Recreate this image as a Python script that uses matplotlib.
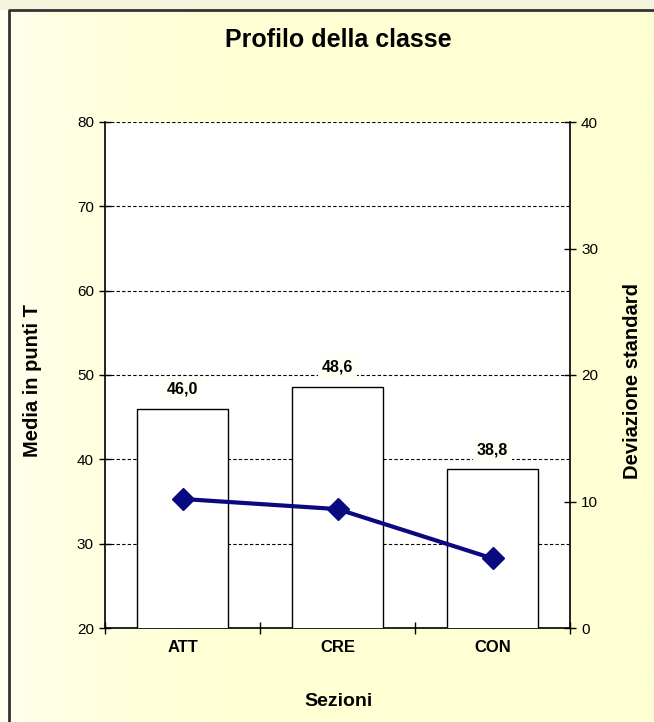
import numpy as np
import matplotlib.pyplot as plt
from matplotlib.colors import LinearSegmentedColormap

plt.rcParams['font.family'] = ['Liberation Sans', 'DejaVu Sans']

# dati della classe
sezioni = ['ATT', 'CRE', 'CON']
media_t = [46.0, 48.6, 38.8]
dev_std = [10.2, 9.4, 5.5]

W, H = 654, 722
fig = plt.figure(figsize=(W / 100, H / 100), dpi=100)

# sfondo giallo chiaro, un po' piu' bianco sul bordo sinistro
bg = fig.add_axes([0, 0, 1, 1], zorder=-10)
g = np.linspace(0, 1, 256)
g = np.clip(g / 0.35, 0, 1) ** 0.6
bg.imshow(g[None, :], aspect='auto', extent=[0, 1, 0, 1],
          cmap=LinearSegmentedColormap.from_list('bgy', ['#fffff2', '#ffffd4']))
bg.set_xlim(0, 1)
bg.set_ylim(0, 1)
bg.axis('off')
bg.axhspan(1 - 9 / H, 1, color='#f4f4dc')
bg.plot([9 / W, 9 / W, 1.05], [-0.05, 1 - 10 / H, 1 - 10 / H], color='#333333',
        lw=2, transform=bg.transAxes, clip_on=True)

ax = fig.add_axes([105 / W, 1 - 628 / H, 465 / W, 506 / H])
ax.set_facecolor('white')
x = np.arange(len(sezioni))
ax.bar(x, media_t, width=0.59, color='white', edgecolor='black',
       linewidth=1.0, zorder=3)
ax.set_ylim(20, 80)
ax.set_xlim(-0.5, len(sezioni) - 0.5)
ax.set_yticks(np.arange(20, 81, 10))
ax.yaxis.grid(True, linestyle=(0, (3, 2)), color='black', linewidth=0.8, zorder=1)
ax.set_axisbelow(True)

for xi, v in zip(x, media_t):
    ax.text(xi, v + 1.4, f'{v:.1f}'.replace('.', ','), ha='center', va='bottom',
            fontsize=11.5, fontweight='bold', zorder=4,
            bbox=dict(facecolor='#fffff6', edgecolor='none', pad=2.5))

ax.set_xticks(x)
ax.set_xticklabels(sezioni, fontsize=12, fontweight='bold')
ax.set_xticks(np.arange(len(sezioni) + 1) - 0.5, minor=True)
ax.tick_params(axis='x', which='major', length=0, pad=9)
ax.tick_params(axis='x', which='minor', direction='inout', length=8, width=1)
ax.tick_params(axis='y', direction='inout', length=8, width=1, labelsize=11, pad=4)
for s in ['top', 'right']:
    ax.spines[s].set_visible(False)
ax.spines['left'].set_linewidth(1.2)
ax.spines['bottom'].set_linewidth(1.2)

fig.text(338 / W, 1 - 40 / H, 'Profilo della classe', ha='center', va='center',
         fontsize=18, fontweight='bold')
fig.text(338 / W, 1 - 701 / H, 'Sezioni', ha='center', va='center',
         fontsize=14, fontweight='bold')
fig.text(33 / W, 1 - 381 / H, 'Media in punti T', ha='center', va='center',
         rotation=90, fontsize=14.5, fontweight='bold')

ax2 = ax.twinx()
ax2.plot(x, dev_std, color='#0a0a80', linewidth=3, marker='D', markersize=11,
         zorder=5)
ax2.set_ylim(0, 40)
ax2.set_yticks(np.arange(0, 41, 10))
ax2.tick_params(axis='y', direction='inout', length=8, width=1, labelsize=11, pad=4)
for s in ['top', 'left', 'bottom']:
    ax2.spines[s].set_visible(False)
ax2.spines['right'].set_linewidth(1.2)
fig.text(633 / W, 1 - 381 / H, 'Deviazione standard', ha='center', va='center',
         rotation=90, fontsize=14.5, fontweight='bold')

fig.savefig('out.png', dpi=100)
